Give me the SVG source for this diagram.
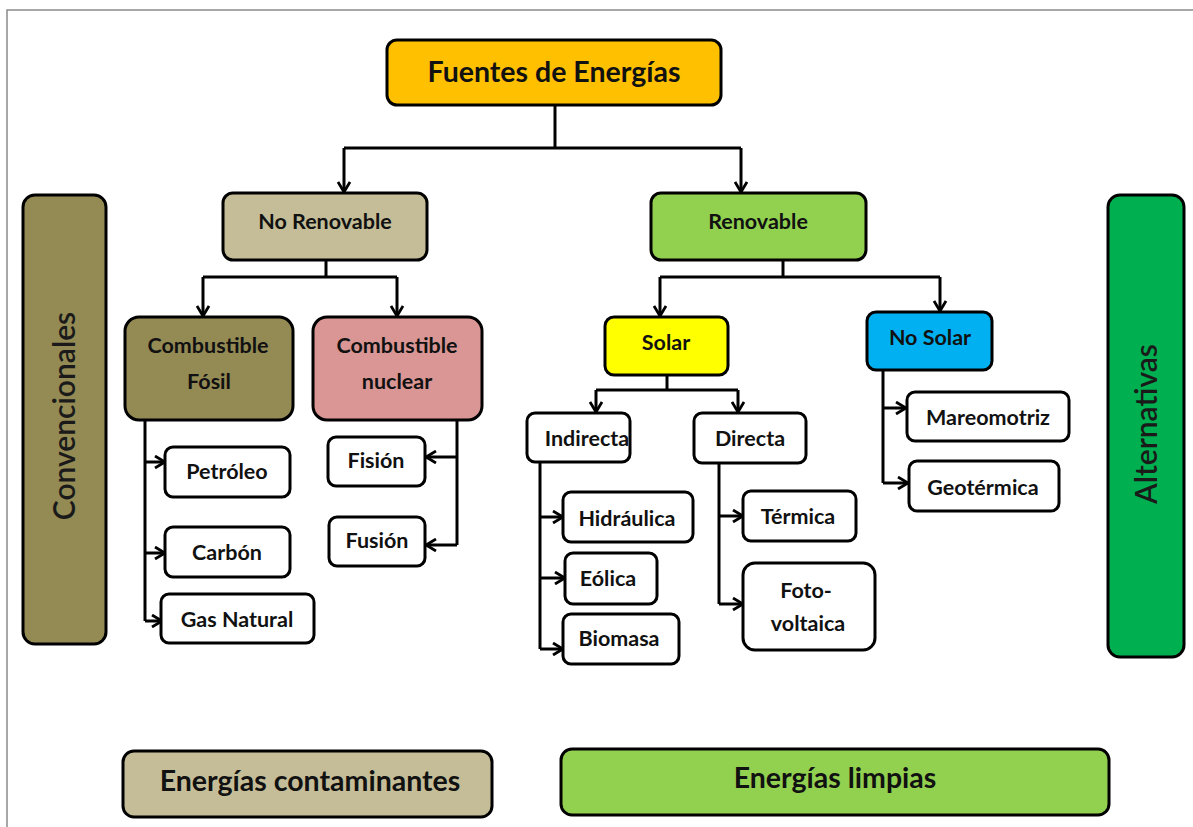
<svg xmlns="http://www.w3.org/2000/svg" width="1193" height="827" viewBox="0 0 1193 827">
<defs>
<marker id="arr" viewBox="0 0 12 14" refX="11" refY="7" markerWidth="12" markerHeight="14" markerUnits="userSpaceOnUse" orient="auto">
<path d="M1,1 L11,7 L1,13" fill="none" stroke="#000" stroke-width="2.8" stroke-linejoin="miter"/>
</marker>
</defs>
<style>
.b{stroke:#000;stroke-width:3}
.w{fill:#fff}
text{font-family:Lato,"Liberation Sans",sans-serif;font-weight:bold;fill:#111;text-anchor:middle;dominant-baseline:central}
.t{font-size:21.5px}
.big{font-size:28.5px}
.side{font-size:30px;font-weight:600;fill:#1a1a1a}
.c{fill:none;stroke:#000;stroke-width:3}
.a{marker-end:url(#arr)}
</style>
<rect width="1193" height="827" fill="#fff"/>
<path d="M7,827 V10 H1193" fill="none" stroke="#8a8a8a" stroke-width="1.5"/>

<g id="connectors">
<path class="c" d="M555,105 V148"/>
<path class="c" d="M344,148 H741"/>
<path class="c a" d="M344,148 V192"/>
<path class="c a" d="M741,148 V192"/>
<path class="c" d="M326,260 V277"/>
<path class="c" d="M203,277 H397"/>
<path class="c a" d="M203,277 V316"/>
<path class="c a" d="M397,277 V316"/>
<path class="c" d="M783,260 V277"/>
<path class="c" d="M660,277 H940"/>
<path class="c a" d="M660,277 V316"/>
<path class="c a" d="M940,277 V311"/>
<path class="c" d="M667,375 V390"/>
<path class="c" d="M596,390 H738"/>
<path class="c a" d="M596,390 V412"/>
<path class="c a" d="M738,390 V412"/>
<path class="c" d="M145,420 V621"/>
<path class="c a" d="M145,462 H165"/>
<path class="c a" d="M145,553 H165"/>
<path class="c a" d="M145,621 H162"/>
<path class="c" d="M457,420 V545"/>
<path class="c a" d="M457,457 H426"/>
<path class="c a" d="M457,545 H426"/>
<path class="c" d="M540,462 V649"/>
<path class="c a" d="M540,517 H563"/>
<path class="c a" d="M540,578 H565"/>
<path class="c a" d="M540,649 H563"/>
<path class="c" d="M719,463 V604"/>
<path class="c a" d="M719,516 H743"/>
<path class="c a" d="M719,604 H743"/>
<path class="c" d="M883,370 V483"/>
<path class="c a" d="M883,408 H906"/>
<path class="c a" d="M883,483 H908"/>
</g>

<g id="n-fuentes"><rect class="b" x="387" y="40" width="334" height="65" rx="10" fill="#FFC000"/><text class="big" x="554" y="71">Fuentes de Energías</text></g>
<g id="n-norenovable"><rect class="b" x="223" y="193" width="204" height="67" rx="10" fill="#C4BD97"/><text class="t" x="325" y="221">No Renovable</text></g>
<g id="n-renovable"><rect class="b" x="651" y="193" width="215" height="67" rx="10" fill="#92D050"/><text class="t" x="758" y="221">Renovable</text></g>
<g id="n-fosil"><rect class="b" x="125" y="317" width="168" height="103" rx="14" fill="#948A54"/><text class="t" x="208" y="345">Combustible</text><text class="t" x="209" y="381">Fósil</text></g>
<g id="n-nuclear"><rect class="b" x="313" y="317" width="169" height="103" rx="14" fill="#D99694"/><text class="t" x="397" y="345">Combustible</text><text class="t" x="397" y="381">nuclear</text></g>
<g id="n-solar"><rect class="b" x="605" y="317" width="123" height="58" rx="9" fill="#FFFF00"/><text class="t" x="666" y="342">Solar</text></g>
<g id="n-nosolar"><rect class="b" x="867" y="312" width="125" height="58" rx="9" fill="#00B0F0"/><text class="t" x="930" y="337">No Solar</text></g>
<g id="n-indirecta"><rect class="b w" x="527" y="413" width="103" height="49" rx="8"/><text class="t" x="587" y="438">Indirecta</text></g>
<g id="n-directa"><rect class="b w" x="694" y="413" width="112" height="50" rx="8"/><text class="t" x="750" y="438">Directa</text></g>
<g id="n-petroleo"><rect class="b w" x="165" y="447" width="125" height="50" rx="8"/><text class="t" x="227" y="471">Petróleo</text></g>
<g id="n-carbon"><rect class="b w" x="165" y="527" width="125" height="50" rx="8"/><text class="t" x="227" y="552">Carbón</text></g>
<g id="n-gas"><rect class="b w" x="161" y="594" width="153" height="49" rx="8"/><text class="t" x="237" y="619">Gas Natural</text></g>
<g id="n-fision"><rect class="b w" x="328" y="437" width="97" height="49" rx="8"/><text class="t" x="376" y="460">Fisión</text></g>
<g id="n-fusion"><rect class="b w" x="329" y="517" width="96" height="49" rx="8"/><text class="t" x="377" y="540">Fusión</text></g>
<g id="n-hidraulica"><rect class="b w" x="563" y="492" width="130" height="50" rx="8"/><text class="t" x="627" y="518">Hidráulica</text></g>
<g id="n-eolica"><rect class="b w" x="565" y="553" width="92" height="51" rx="8"/><text class="t" x="608" y="578">Eólica</text></g>
<g id="n-biomasa"><rect class="b w" x="563" y="614" width="116" height="50" rx="8"/><text class="t" x="619" y="638">Biomasa</text></g>
<g id="n-termica"><rect class="b w" x="743" y="491" width="113" height="50" rx="8"/><text class="t" x="798" y="516">Térmica</text></g>
<g id="n-foto"><rect class="b w" x="743" y="563" width="132" height="87" rx="12"/><text class="t" x="806" y="590">Foto-</text><text class="t" x="808" y="623">voltaica</text></g>
<g id="n-mareomotriz"><rect class="b w" x="907" y="392" width="162" height="49" rx="8"/><text class="t" x="988" y="417">Mareomotriz</text></g>
<g id="n-geotermica"><rect class="b w" x="909" y="461" width="150" height="50" rx="8"/><text class="t" x="983" y="487">Geotérmica</text></g>
<g id="n-convencionales"><rect class="b" x="23" y="195" width="83" height="449" rx="12" fill="#948A54"/><text class="side" transform="translate(63,416) rotate(-90)">Convencionales</text></g>
<g id="n-alternativas"><rect class="b" x="1108" y="195" width="76" height="462" rx="12" fill="#00B050"/><text class="side" transform="translate(1145,424) rotate(-90)">Alternativas</text></g>
<g id="n-contaminantes"><rect class="b" x="123" y="751" width="369" height="66" rx="11" fill="#C4BD97"/><text class="big" x="310" y="780">Energías contaminantes</text></g>
<g id="n-limpias"><rect class="b" x="561" y="749" width="548" height="66" rx="11" fill="#92D050"/><text class="big" x="835" y="777">Energías limpias</text></g>
</svg>
